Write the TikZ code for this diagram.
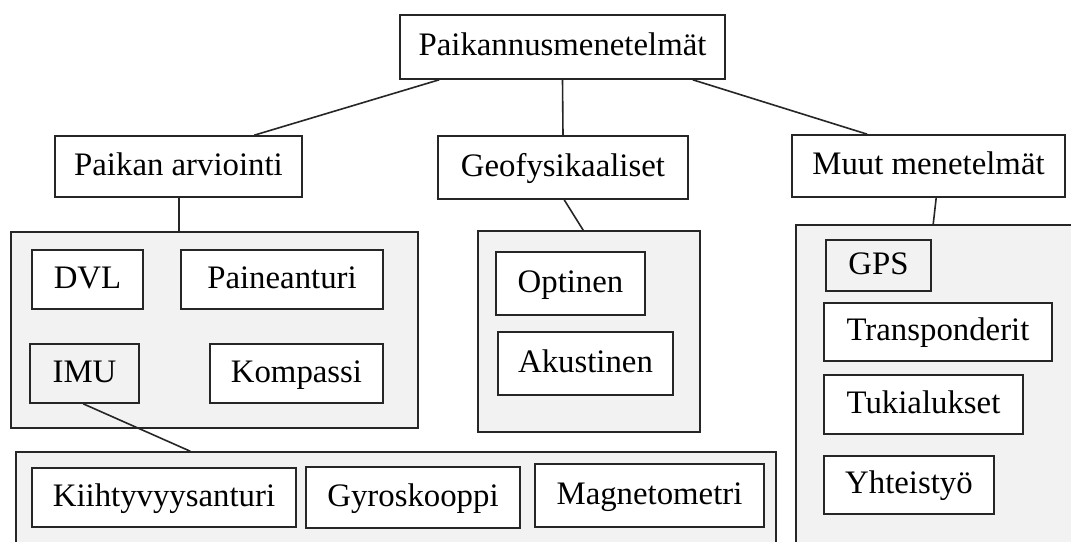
\documentclass[tikz,border=0pt]{standalone}
\usepackage{fontspec}
\setmainfont{Liberation Serif}
\usetikzlibrary{calc}
\definecolor{panel}{HTML}{F2F2F2}
\tikzset{
  bx/.style={draw=black!85, line width=0.8pt, fill=white, inner sep=0pt,
    font=\fontsize{16.4}{18}\selectfont, text height=11pt, text depth=2.5pt},
  gbx/.style={bx, fill=panel},
  panelbox/.style={draw=black!85, line width=0.8pt, fill=panel, inner sep=0pt},
  link/.style={draw=black!85, line width=0.8pt}
}
% #1 style, #2 name, #3 x1, #4 y1, #5 x2, #6 y2, #7 text (pixel units)
\newcommand\pxbox[7]{\node[#1, minimum width={(#5-#3)*0.5pt}, minimum height={(#6-#4)*0.5pt}] (#2) at ({(#3+#5)/2},{(#4+#6)/2}) {#7};}
\begin{document}
\begin{tikzpicture}[x=0.5pt,y=-0.5pt]
\useasboundingbox (0,0) rectangle (1071,541);
\clip (0,0) rectangle (1071,541);
\fill[white] (0,0) rectangle (1071,541);
% containers
\pxbox{panelbox}{c1}{11}{232}{418}{428}{}
\pxbox{panelbox}{c2}{478}{231}{700}{432}{}
\pxbox{panelbox}{c3}{796}{225}{1090}{570}{}
\pxbox{panelbox}{c4}{16}{452}{776}{570}{}
% top level
\pxbox{bx}{top}{400}{15}{725}{79}{Paikannusmenetelmät}
\pxbox{bx}{pa}{55}{136}{302}{197}{Paikan arviointi}
\pxbox{bx}{geo}{438}{136}{688}{199}{Geofysikaaliset}
\pxbox{bx}{muut}{792}{135}{1065}{197}{Muut menetelmät}
% left group
\pxbox{bx}{dvl}{32}{250}{143}{309}{DVL}
\pxbox{bx}{paine}{181}{250}{383}{309}{Paineanturi}
\pxbox{gbx}{imu}{30}{344}{139}{403}{IMU}
\pxbox{bx}{komp}{210}{344}{383}{403}{Kompassi}
% middle group
\pxbox{bx}{opt}{496}{252}{645}{315}{Optinen}
\pxbox{bx}{aku}{498}{332}{673}{395}{Akustinen}
% right group
\pxbox{gbx}{gps}{826}{240}{931}{291}{GPS}
\pxbox{bx}{trans}{824}{303}{1052}{361}{Transponderit}
\pxbox{bx}{tuki}{824}{375}{1023}{434}{Tukialukset}
\pxbox{bx}{yht}{824}{456}{994}{514}{Yhteistyö}
% bottom group
\pxbox{bx}{kii}{32}{468}{296}{527}{Kiihtyvyysanturi}
\pxbox{bx}{gyro}{306}{467}{520}{528}{Gyroskooppi}
\pxbox{bx}{mag}{535}{464}{764}{527}{Magnetometri}
% connectors
\draw[link] ($(top.south west)+(40,0)$) -- ($(pa.north west)+(200,0)$);
\draw[link] (top.south) -- (geo.north);
\draw[link] ($(top.south east)+(-33,0)$) -- ($(muut.north west)+(76,0)$);
\draw[link] ($(pa.south west)+(125,0)$) -- ($(c1.north west)+(169,0)$);
\draw[link] ($(geo.south west)+(127,0)$) -- ($(c2.north west)+(106,0)$);
\draw[link] ($(muut.south west)+(145,0)$) -- ($(c3.north west)+(138,0)$);
\draw[link] ($(imu.south west)+(54,0)$) -- ($(c4.north west)+(175,0)$);
\end{tikzpicture}
\end{document}
